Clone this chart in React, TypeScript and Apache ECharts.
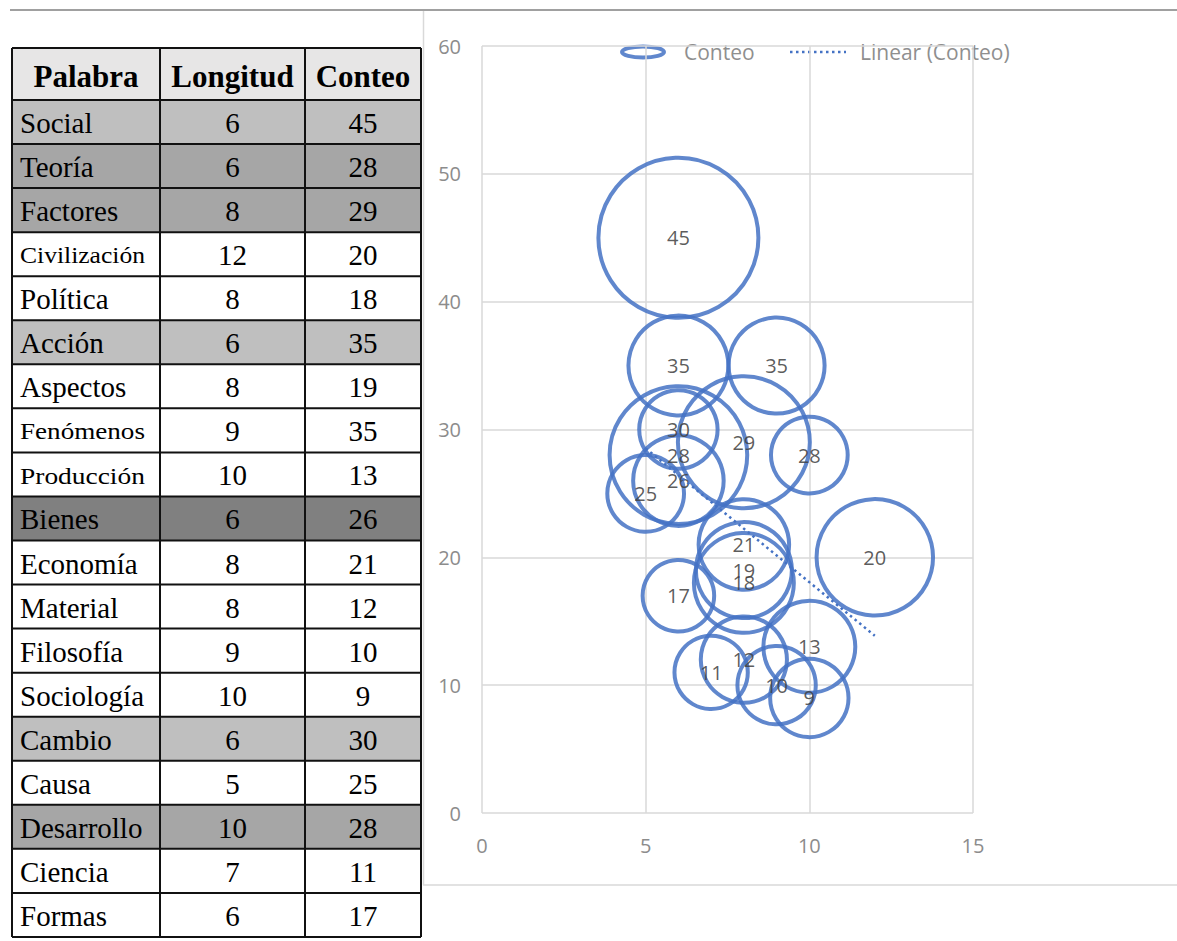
import React, { useEffect, useRef } from "react";
import * as echarts from "echarts";

// ---- Data ----
const encabezados = ["Palabra", "Longitud", "Conteo"];
const palabras = [
  "Social", "Teoría", "Factores", "Civilización", "Política", "Acción", "Aspectos",
  "Fenómenos", "Producción", "Bienes", "Economía", "Material", "Filosofía",
  "Sociología", "Cambio", "Causa", "Desarrollo", "Ciencia", "Formas",
];
const longitud = [6, 6, 8, 12, 8, 6, 8, 9, 10, 6, 8, 8, 9, 10, 6, 5, 10, 7, 6];
const conteo = [45, 28, 29, 20, 18, 35, 19, 35, 13, 26, 21, 12, 10, 9, 30, 25, 28, 11, 17];
// relative bubble size (area)
const tamano = [100, 74, 68, 53, 39, 39, 36, 36, 33, 32, 32, 29, 24, 24, 24, 23, 23, 21, 20];
// row shading level in the table (0 = none)
const sombreado = [1, 2, 2, 0, 0, 1, 0, 0, 0, 3, 0, 0, 0, 0, 1, 0, 2, 0, 0];
const serieBurbujas = "Conteo";
const serieTendencia = "Linear (Conteo)";

// ---- Styles / layout ----
const BLUE = "#4472C4";
const SHADES = ["#ffffff", "#bfbfbf", "#a6a6a6", "#808080"];
const HEADER_FILL = "#e7e6e6";
const COLS = [12, 160, 305, 421];
const T_TOP = 48;
const HEAD_H = 52;
const ROW_H = 44.05;
const SERIF = "'Liberation Serif', 'Times New Roman', serif";
const SANS = "'Open Sans', 'Noto Sans', sans-serif";
const MAX_R = 80;
const DOTS = [2.5, 3.5];

function linearFit(xs: number[], ys: number[]) {
  const n = xs.length;
  const mx = xs.reduce((a, b) => a + b, 0) / n;
  const my = ys.reduce((a, b) => a + b, 0) / n;
  let sxy = 0, sxx = 0;
  for (let i = 0; i < n; i++) {
    sxy += (xs[i] - mx) * (ys[i] - my);
    sxx += (xs[i] - mx) * (xs[i] - mx);
  }
  const b = sxy / sxx;
  return { a: my - b * mx, b };
}

function buildTable() {
  const g: any[] = [];
  const canvas = document.createElement("canvas");
  const ctx = canvas.getContext("2d")!;
  const bodySize = 29;
  const rows = palabras.length;
  const bottom = T_TOP + HEAD_H + ROW_H * rows;
  g.push({
    type: "rect",
    shape: { x: COLS[0], y: T_TOP, width: COLS[3] - COLS[0], height: HEAD_H },
    style: { fill: HEADER_FILL },
  });
  for (let i = 0; i < rows; i++) {
    const y = T_TOP + HEAD_H + ROW_H * i;
    if (sombreado[i] > 0) {
      g.push({
        type: "rect",
        shape: { x: COLS[0], y, width: COLS[3] - COLS[0], height: ROW_H },
        style: { fill: SHADES[sombreado[i]] },
      });
    }
  }
  encabezados.forEach((h, j) => {
    g.push({
      type: "text",
      x: (COLS[j] + COLS[j + 1]) / 2,
      y: T_TOP + HEAD_H / 2 + 2,
      style: {
        text: h,
        font: `bold 31px ${SERIF}`,
        fill: "#000",
        align: "center",
        verticalAlign: "middle",
      },
    });
  });
  for (let i = 0; i < rows; i++) {
    const cy = T_TOP + HEAD_H + ROW_H * i + ROW_H / 2 + 1;
    ctx.font = `${bodySize}px ${SERIF}`;
    const w = ctx.measureText(palabras[i]).width;
    let size = bodySize;
    let sx = 1;
    const maxW = 125;
    if (w > maxW) {
      size = 23;
      ctx.font = `${size}px ${SERIF}`;
      sx = maxW / ctx.measureText(palabras[i]).width;
    }
    g.push({
      type: "text",
      x: COLS[0] + 8,
      y: cy,
      scaleX: sx,
      style: {
        text: palabras[i],
        font: `${size}px ${SERIF}`,
        fill: "#000",
        align: "left",
        verticalAlign: "middle",
      },
    });
    g.push({
      type: "text",
      x: (COLS[1] + COLS[2]) / 2,
      y: cy,
      style: {
        text: String(longitud[i]),
        font: `${bodySize}px ${SERIF}`,
        fill: "#000",
        align: "center",
        verticalAlign: "middle",
      },
    });
    g.push({
      type: "text",
      x: (COLS[2] + COLS[3]) / 2,
      y: cy,
      style: {
        text: String(conteo[i]),
        font: `${bodySize}px ${SERIF}`,
        fill: "#000",
        align: "center",
        verticalAlign: "middle",
      },
    });
  }
  const lineStyle = { stroke: "#111", lineWidth: 2 };
  COLS.forEach((x) => {
    g.push({ type: "line", shape: { x1: x, y1: T_TOP, x2: x, y2: bottom }, style: lineStyle });
  });
  const ys = [T_TOP, T_TOP + HEAD_H];
  for (let i = 1; i <= rows; i++) ys.push(T_TOP + HEAD_H + ROW_H * i);
  ys.forEach((y) => {
    g.push({ type: "line", shape: { x1: COLS[0], y1: y, x2: COLS[3], y2: y }, style: lineStyle });
  });
  return g;
}

function buildLegend() {
  const cy = 52;
  const text = { fill: "#8f8f8f", fontSize: 21, fontFamily: SANS, verticalAlign: "middle", align: "left" };
  return [
    {
      type: "ellipse",
      shape: { cx: 643, cy, rx: 21, ry: 5.5 },
      style: { fill: "none", stroke: BLUE, lineWidth: 4, opacity: 0.85 },
    },
    { type: "text", x: 684, y: cy, style: { ...text, text: serieBurbujas } },
    {
      type: "line",
      shape: { x1: 790, y1: cy, x2: 846, y2: cy },
      style: { stroke: BLUE, lineWidth: 2.5, lineDash: DOTS },
    },
    { type: "text", x: 860, y: cy, style: { ...text, text: serieTendencia } },
  ];
}

export default function App() {
  const ref = useRef<HTMLDivElement>(null);
  useEffect(() => {
    const chart = echarts.init(ref.current!, undefined, { renderer: "svg" });
    const fit = linearFit(longitud, conteo);
    const xMin = Math.min(...longitud);
    const xMax = Math.max(...longitud);
    const trend = [
      [xMin, fit.a + fit.b * xMin],
      [xMax, fit.a + fit.b * xMax],
    ];
    const bubbles = palabras.map((p, i) => [longitud[i], conteo[i], tamano[i], p]);

    const frame: any[] = [
      { type: "line", shape: { x1: 10, y1: 10, x2: 1177, y2: 10 }, style: { stroke: "#a0a0a0", lineWidth: 2 } },
      { type: "line", shape: { x1: 423.5, y1: 11, x2: 423.5, y2: 885 }, style: { stroke: "#d9d9d9", lineWidth: 1.5 } },
      { type: "line", shape: { x1: 423, y1: 885, x2: 1177, y2: 885 }, style: { stroke: "#d9d9d9", lineWidth: 1.5 } },
    ];

    const axisLabel = { color: "#8c8c8c", fontSize: 20, fontFamily: SANS };
    chart.setOption({
      animation: false,
      backgroundColor: "#ffffff",
      grid: { left: 482, right: 204, top: 46, bottom: 128, containLabel: false },
      xAxis: {
        type: "value",
        min: 0,
        max: 15,
        interval: 5,
        axisLine: { show: false },
        axisTick: { show: false },
        splitLine: { show: true, lineStyle: { color: "#d9d9d9", width: 1.5 } },
        axisLabel: { ...axisLabel, margin: 22 },
      },
      yAxis: {
        type: "value",
        min: 0,
        max: 60,
        interval: 10,
        axisLine: { show: false },
        axisTick: { show: false },
        splitLine: { show: true, lineStyle: { color: "#d9d9d9", width: 1.5 } },
        axisLabel: { ...axisLabel, margin: 21 },
      },
      graphic: { elements: [...frame, ...buildTable(), ...buildLegend()] },
      series: [
        {
          name: serieBurbujas,
          type: "scatter",
          data: bubbles,
          symbol: "circle",
          symbolSize: (v: number[]) => 2 * MAX_R * Math.sqrt(v[2] / 100),
          itemStyle: { color: "rgba(0,0,0,0)", borderColor: BLUE, borderWidth: 4, opacity: 0.85 },
          label: {
            show: true,
            position: "inside",
            formatter: (p: any) => String(p.value[1]),
            color: "#404040",
            fontSize: 20,
            fontFamily: SANS,
          },
          emphasis: { disabled: true },
          z: 2,
        },
        {
          name: serieTendencia,
          type: "line",
          data: trend,
          symbol: "none",
          lineStyle: { color: BLUE, width: 2.5, type: DOTS },
          emphasis: { disabled: true },
          z: 3,
        },
      ],
    });
    return () => chart.dispose();
  }, []);
  return (
    <div
      ref={ref}
      style={{ position: "absolute", left: 0, top: 0, width: 1177, height: 941, background: "#fff" }}
    />
  );
}
